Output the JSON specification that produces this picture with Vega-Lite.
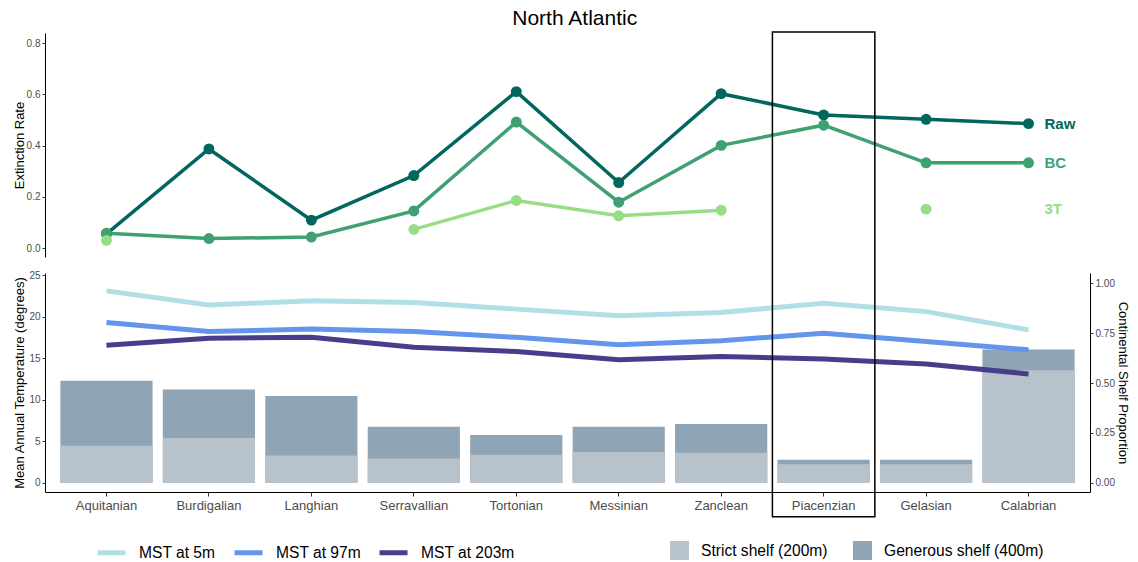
{
  "$schema": "https://vega.github.io/schema/vega-lite/v6.json",
  "background": "white",
  "padding": {"left": 12, "top": 8, "right": 8, "bottom": 4},
  "config": {
    "font": "Liberation Sans",
    "view": {"stroke": null},
    "axis": {
      "grid": false,
      "domainColor": "black",
      "domainWidth": 1,
      "tickColor": "#333333",
      "tickSize": 3,
      "labelColor": "#4d4d4d",
      "labelFontSize": 10,
      "labelPadding": 2,
      "titleColor": "black",
      "titleFontSize": 13,
      "titleFontWeight": "normal"
    },
    "legend": {
      "titleFontSize": 0,
      "labelColor": "black",
      "labelFontSize": 15.6
    }
  },
  "title": {
    "text": "North Atlantic",
    "fontSize": 21,
    "fontWeight": "normal",
    "color": "black",
    "anchor": "middle",
    "dx": 4,
    "offset": 2
  },
  "datasets": {
    "extinction": [
      {"stage": "Aquitanian", "series": "Raw", "rate": 0.055},
      {"stage": "Burdigalian", "series": "Raw", "rate": 0.387},
      {"stage": "Langhian", "series": "Raw", "rate": 0.109},
      {"stage": "Serravallian", "series": "Raw", "rate": 0.283},
      {"stage": "Tortonian", "series": "Raw", "rate": 0.611},
      {"stage": "Messinian", "series": "Raw", "rate": 0.256},
      {"stage": "Zanclean", "series": "Raw", "rate": 0.603},
      {"stage": "Piacenzian", "series": "Raw", "rate": 0.52},
      {"stage": "Gelasian", "series": "Raw", "rate": 0.503},
      {"stage": "Calabrian", "series": "Raw", "rate": 0.486},
      {"stage": "Aquitanian", "series": "BC", "rate": 0.058},
      {"stage": "Burdigalian", "series": "BC", "rate": 0.037},
      {"stage": "Langhian", "series": "BC", "rate": 0.043},
      {"stage": "Serravallian", "series": "BC", "rate": 0.145},
      {"stage": "Tortonian", "series": "BC", "rate": 0.492},
      {"stage": "Messinian", "series": "BC", "rate": 0.179},
      {"stage": "Zanclean", "series": "BC", "rate": 0.401},
      {"stage": "Piacenzian", "series": "BC", "rate": 0.48},
      {"stage": "Gelasian", "series": "BC", "rate": 0.333},
      {"stage": "Calabrian", "series": "BC", "rate": 0.333},
      {"stage": "Aquitanian", "series": "3T", "rate": 0.03},
      {"stage": "Burdigalian", "series": "3T", "rate": null},
      {"stage": "Langhian", "series": "3T", "rate": null},
      {"stage": "Serravallian", "series": "3T", "rate": 0.073},
      {"stage": "Tortonian", "series": "3T", "rate": 0.186},
      {"stage": "Messinian", "series": "3T", "rate": 0.126},
      {"stage": "Zanclean", "series": "3T", "rate": 0.148},
      {"stage": "Piacenzian", "series": "3T", "rate": null},
      {"stage": "Gelasian", "series": "3T", "rate": 0.152},
      {"stage": "Calabrian", "series": "3T", "rate": null}
    ],
    "seriesLabels": [
      {"stage": "Calabrian", "series": "Raw", "rate": 0.486},
      {"stage": "Calabrian", "series": "BC", "rate": 0.333},
      {"stage": "Calabrian", "series": "3T", "rate": 0.152}
    ],
    "temperature": [
      {"stage": "Aquitanian", "depth": "MST at 5m", "mst": 23.1},
      {"stage": "Burdigalian", "depth": "MST at 5m", "mst": 21.4},
      {"stage": "Langhian", "depth": "MST at 5m", "mst": 21.9},
      {"stage": "Serravallian", "depth": "MST at 5m", "mst": 21.7},
      {"stage": "Tortonian", "depth": "MST at 5m", "mst": 20.9},
      {"stage": "Messinian", "depth": "MST at 5m", "mst": 20.1},
      {"stage": "Zanclean", "depth": "MST at 5m", "mst": 20.5},
      {"stage": "Piacenzian", "depth": "MST at 5m", "mst": 21.6},
      {"stage": "Gelasian", "depth": "MST at 5m", "mst": 20.6},
      {"stage": "Calabrian", "depth": "MST at 5m", "mst": 18.4},
      {"stage": "Aquitanian", "depth": "MST at 97m", "mst": 19.3},
      {"stage": "Burdigalian", "depth": "MST at 97m", "mst": 18.2},
      {"stage": "Langhian", "depth": "MST at 97m", "mst": 18.5},
      {"stage": "Serravallian", "depth": "MST at 97m", "mst": 18.2},
      {"stage": "Tortonian", "depth": "MST at 97m", "mst": 17.5},
      {"stage": "Messinian", "depth": "MST at 97m", "mst": 16.6},
      {"stage": "Zanclean", "depth": "MST at 97m", "mst": 17.1},
      {"stage": "Piacenzian", "depth": "MST at 97m", "mst": 18.0},
      {"stage": "Gelasian", "depth": "MST at 97m", "mst": 17.0},
      {"stage": "Calabrian", "depth": "MST at 97m", "mst": 16.0},
      {"stage": "Aquitanian", "depth": "MST at 203m", "mst": 16.55},
      {"stage": "Burdigalian", "depth": "MST at 203m", "mst": 17.4},
      {"stage": "Langhian", "depth": "MST at 203m", "mst": 17.5},
      {"stage": "Serravallian", "depth": "MST at 203m", "mst": 16.3},
      {"stage": "Tortonian", "depth": "MST at 203m", "mst": 15.8},
      {"stage": "Messinian", "depth": "MST at 203m", "mst": 14.8},
      {"stage": "Zanclean", "depth": "MST at 203m", "mst": 15.2},
      {"stage": "Piacenzian", "depth": "MST at 203m", "mst": 14.9},
      {"stage": "Gelasian", "depth": "MST at 203m", "mst": 14.3},
      {"stage": "Calabrian", "depth": "MST at 203m", "mst": 13.1}
    ],
    "shelf": [
      {"stage": "Aquitanian", "shelf": "Generous shelf (400m)", "prop": 0.512},
      {"stage": "Burdigalian", "shelf": "Generous shelf (400m)", "prop": 0.468},
      {"stage": "Langhian", "shelf": "Generous shelf (400m)", "prop": 0.435},
      {"stage": "Serravallian", "shelf": "Generous shelf (400m)", "prop": 0.281},
      {"stage": "Tortonian", "shelf": "Generous shelf (400m)", "prop": 0.239},
      {"stage": "Messinian", "shelf": "Generous shelf (400m)", "prop": 0.281},
      {"stage": "Zanclean", "shelf": "Generous shelf (400m)", "prop": 0.294},
      {"stage": "Piacenzian", "shelf": "Generous shelf (400m)", "prop": 0.115},
      {"stage": "Gelasian", "shelf": "Generous shelf (400m)", "prop": 0.115},
      {"stage": "Calabrian", "shelf": "Generous shelf (400m)", "prop": 0.669},
      {"stage": "Aquitanian", "shelf": "Strict shelf (200m)", "prop": 0.186},
      {"stage": "Burdigalian", "shelf": "Strict shelf (200m)", "prop": 0.224},
      {"stage": "Langhian", "shelf": "Strict shelf (200m)", "prop": 0.136},
      {"stage": "Serravallian", "shelf": "Strict shelf (200m)", "prop": 0.122},
      {"stage": "Tortonian", "shelf": "Strict shelf (200m)", "prop": 0.14},
      {"stage": "Messinian", "shelf": "Strict shelf (200m)", "prop": 0.154},
      {"stage": "Zanclean", "shelf": "Strict shelf (200m)", "prop": 0.15},
      {"stage": "Piacenzian", "shelf": "Strict shelf (200m)", "prop": 0.092},
      {"stage": "Gelasian", "shelf": "Strict shelf (200m)", "prop": 0.092},
      {"stage": "Calabrian", "shelf": "Strict shelf (200m)", "prop": 0.565}
    ],
    "highlight": [
      {"stage": "Piacenzian"}
    ]
  },
  "bounds": "flush",
  "spacing": 16,
  "vconcat": [
    {
      "width": 1045,
      "height": 224,
      "data": {"name": "extinction"},
      "encoding": {
        "x": {
          "field": "stage",
          "type": "nominal",
          "scale": {
            "type": "band",
            "domain": ["Aquitanian", "Burdigalian", "Langhian", "Serravallian", "Tortonian", "Messinian", "Zanclean", "Piacenzian", "Gelasian", "Calabrian"],
            "paddingInner": 0.1,
            "paddingOuter": 0.15
          },
          "axis": null
        },
        "y": {
          "field": "rate",
          "type": "quantitative",
          "scale": {"domain": [-0.035, 0.84], "nice": false, "zero": false},
          "axis": {
            "title": "Extinction Rate",
            "values": [0, 0.2, 0.4, 0.6, 0.8],
            "format": ".1f",
            "titleX": -22,
            "titleBaseline": "alphabetic"
          }
        },
        "color": {
          "field": "series",
          "type": "nominal",
          "scale": {"domain": ["Raw", "BC", "3T"], "range": ["#01665e", "#3fa172", "#98dd86"]},
          "legend": null
        }
      },
      "layer": [
        {
          "mark": {"type": "line", "strokeWidth": 3.5, "invalid": "break-paths-show-domains"},
          "encoding": {"order": {"value": null}}
        },
        {
          "mark": {"type": "circle", "size": 120, "opacity": 1}
        },
        {
          "data": {"name": "seriesLabels"},
          "mark": {"type": "text", "align": "left", "baseline": "middle", "dx": 16, "fontSize": 15, "fontWeight": "bold"},
          "encoding": {"text": {"field": "series"}}
        }
      ]
    },
    {
      "width": 1045,
      "height": 219,
      "encoding": {
        "x": {
          "field": "stage",
          "type": "nominal",
          "scale": {
            "type": "band",
            "domain": ["Aquitanian", "Burdigalian", "Langhian", "Serravallian", "Tortonian", "Messinian", "Zanclean", "Piacenzian", "Gelasian", "Calabrian"],
            "paddingInner": 0.1,
            "paddingOuter": 0.15
          },
          "axis": {"title": null, "labelAngle": 0, "labelFontSize": 13, "tickSize": 4, "labelPadding": 3}
        }
      },
      "layer": [
        {
          "data": {"name": "shelf"},
          "mark": {"type": "bar"},
          "encoding": {
            "y": {
              "field": "prop",
              "type": "quantitative",
              "stack": null,
              "scale": {"domain": [-0.0467, 1.0525], "nice": false, "zero": false},
              "axis": {
                "orient": "right",
                "title": "Continental Shelf Proportion",
                "values": [0, 0.25, 0.5, 0.75, 1],
                "format": ".2f",
                "titlePadding": 1
              }
            },
            "fill": {
              "field": "shelf",
              "type": "nominal",
              "scale": {"domain": ["Strict shelf (200m)", "Generous shelf (400m)"], "range": ["#b8c2cb", "#8fa5b5"]},
              "legend": {
                "orient": "none",
                "legendX": 625,
                "legendY": 508,
                "direction": "horizontal",
                "title": null,
                "symbolType": "square",
                "symbolSize": 361,
                "symbolStrokeWidth": 0,
                "symbolOpacity": 1,
                "labelOffset": 12,
                "columnPadding": 25
              }
            }
          }
        },
        {
          "data": {"name": "temperature"},
          "mark": {"type": "line", "strokeWidth": 5},
          "encoding": {
            "y": {
              "field": "mst",
              "type": "quantitative",
              "scale": {"domain": [-1.12, 25.25], "nice": false, "zero": false},
              "axis": {
                "orient": "left",
                "title": "Mean Annual Temperature (degrees)",
                "values": [0, 5, 10, 15, 20, 25],
                "titleX": -22,
                "titleBaseline": "alphabetic"
              }
            },
            "stroke": {
              "field": "depth",
              "type": "nominal",
              "scale": {"domain": ["MST at 5m", "MST at 97m", "MST at 203m"], "range": ["#b0e0e6", "#6495ed", "#483d8b"]},
              "legend": {
                "orient": "none",
                "legendX": 50,
                "legendY": 503,
                "direction": "horizontal",
                "title": null,
                "symbolType": "stroke",
                "symbolSize": 784,
                "symbolStrokeWidth": 5,
                "labelOffset": 11,
                "columnPadding": 8
              }
            },
            "order": {"value": null}
          }
        },
        {
          "data": {"name": "highlight"},
          "mark": {"type": "bar", "fill": "transparent", "stroke": "black", "strokeWidth": 1.5, "width": {"band": 1.111}},
          "encoding": {
            "y": {
              "datum": 54.28,
              "type": "quantitative",
              "scale": {"domain": [-1.12, 25.25], "nice": false, "zero": false},
              "axis": null
            },
            "y2": {"datum": -4.09}
          }
        }
      ],
      "resolve": {"scale": {"y": "independent"}}
    }
  ]
}
